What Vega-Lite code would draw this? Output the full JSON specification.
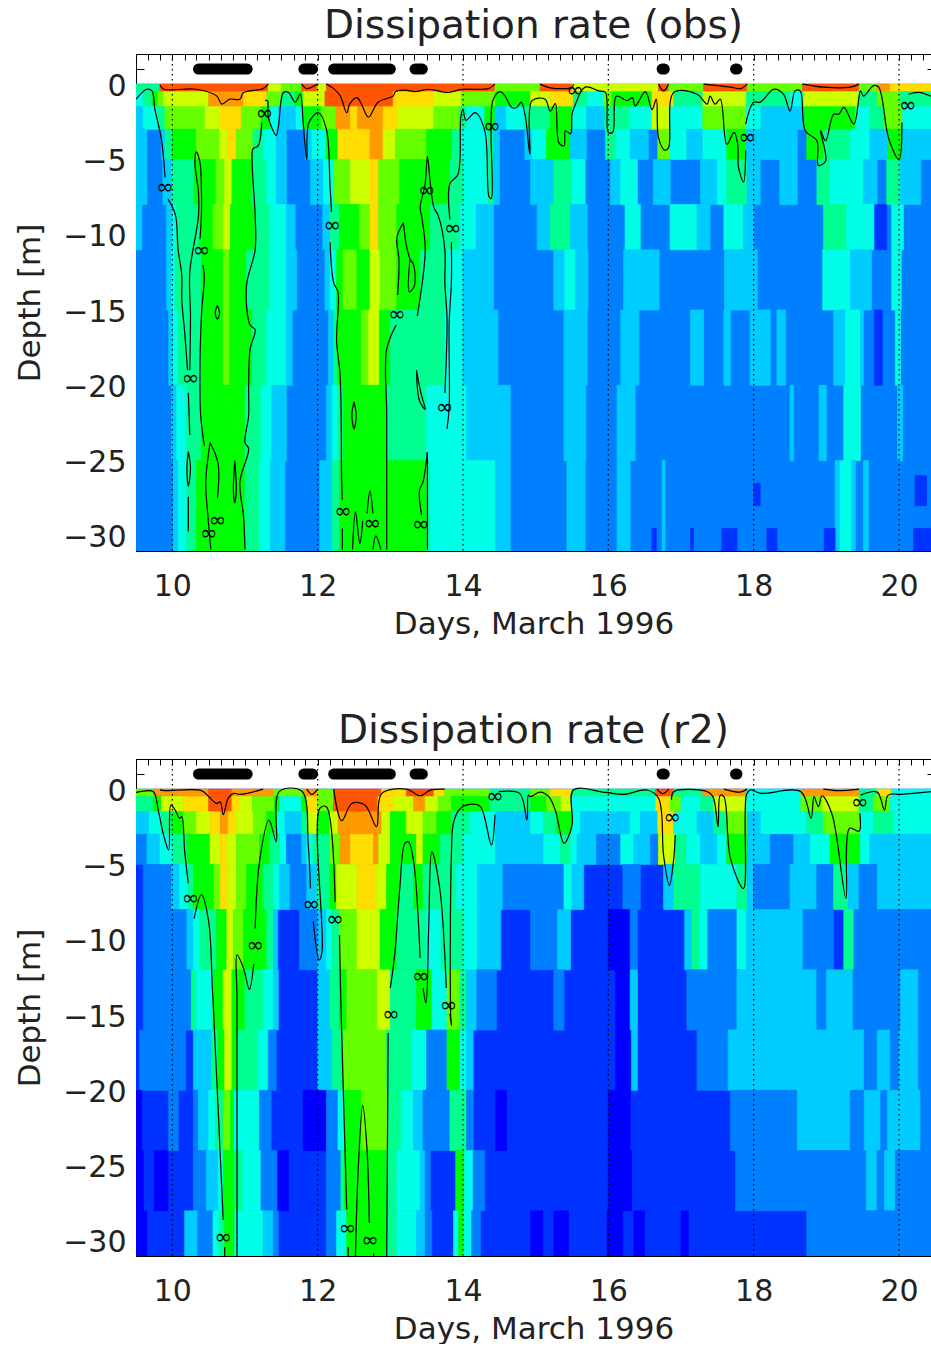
{"$schema":"https://vega.github.io/schema/vega-lite/v6.json","background":"white","padding":{"left":14,"top":7,"right":0,"bottom":0},"bounds":"flush","spacing":208,
"config":{"view":{"stroke":null},"text":{"font":"DejaVu Sans"},"axis":{"labelFont":"DejaVu Sans","titleFont":"DejaVu Sans","labelFontSize":30,"titleFontSize":31,"titleFontWeight":"normal","labelColor":"#222","titleColor":"#222","tickColor":"black","domainColor":"black","grid":false,"zindex":1},"title":{"font":"DejaVu Sans","fontSize":39,"fontWeight":"normal","color":"#222","offset":7}},
"datasets":{
"f1":[{"a":9.5,"b":20.44,"t":0,"u":-31,"l":2},
{"a":9.5,"b":9.83,"t":0,"u":-0.5,"l":5},{"a":9.83,"b":11.32,"t":0,"u":-0.5,"l":11},{"a":11.32,"b":11.5,"t":0,"u":-0.5,"l":8},{"a":11.5,"b":11.78,"t":0,"u":-0.5,"l":7},{"a":11.78,"b":12,"t":0,"u":-0.5,"l":11},{"a":12,"b":12.12,"t":0,"u":-0.5,"l":8},{"a":12.12,"b":14.44,"t":0,"u":-0.5,"l":11},{"a":14.44,"b":15.06,"t":0,"u":-0.5,"l":7},{"a":15.06,"b":15.5,"t":0,"u":-0.5,"l":11},{"a":15.5,"b":16.69,"t":0,"u":-0.5,"l":8},{"a":16.69,"b":16.83,"t":0,"u":-0.5,"l":11},{"a":16.83,"b":17.31,"t":0,"u":-0.5,"l":7},{"a":17.31,"b":17.91,"t":0,"u":-0.5,"l":11},{"a":17.91,"b":18.67,"t":0,"u":-0.5,"l":7},{"a":18.67,"b":19.45,"t":0,"u":-0.5,"l":11},{"a":19.45,"b":19.7,"t":0,"u":-0.5,"l":7},{"a":19.7,"b":19.88,"t":0,"u":-0.5,"l":10},{"a":19.88,"b":20.44,"t":0,"u":-0.5,"l":9},
{"a":9.5,"b":9.6,"t":-0.5,"u":-1.5,"l":4},{"a":9.6,"b":9.72,"t":-0.5,"u":-1.5,"l":5},{"a":9.72,"b":9.8,"t":-0.5,"u":-1.5,"l":6},{"a":9.8,"b":9.88,"t":-0.5,"u":-1.5,"l":7},{"a":9.88,"b":10.5,"t":-0.5,"u":-1.5,"l":8},{"a":10.5,"b":10.98,"t":-0.5,"u":-1.5,"l":10},{"a":10.98,"b":11.3,"t":-0.5,"u":-1.5,"l":9},{"a":11.3,"b":11.5,"t":-0.5,"u":-1.5,"l":7},{"a":11.5,"b":11.69,"t":-0.5,"u":-1.5,"l":5},{"a":11.69,"b":11.8,"t":-0.5,"u":-1.5,"l":6},{"a":11.8,"b":12.1,"t":-0.5,"u":-1.5,"l":8},{"a":12.1,"b":13.04,"t":-0.5,"u":-1.5,"l":11},{"a":13.04,"b":13.6,"t":-0.5,"u":-1.5,"l":9},{"a":13.6,"b":13.98,"t":-0.5,"u":-1.5,"l":8},{"a":13.98,"b":14.45,"t":-0.5,"u":-1.5,"l":7},{"a":14.45,"b":14.93,"t":-0.5,"u":-1.5,"l":6},{"a":14.93,"b":15.2,"t":-0.5,"u":-1.5,"l":8},{"a":15.2,"b":15.52,"t":-0.5,"u":-1.5,"l":9},{"a":15.52,"b":15.71,"t":-0.5,"u":-1.5,"l":5},{"a":15.71,"b":15.94,"t":-0.5,"u":-1.5,"l":4},{"a":15.94,"b":16.05,"t":-0.5,"u":-1.5,"l":7},{"a":16.05,"b":16.6,"t":-0.5,"u":-1.5,"l":6},{"a":16.6,"b":16.9,"t":-0.5,"u":-1.5,"l":9},{"a":16.9,"b":17.3,"t":-0.5,"u":-1.5,"l":5},{"a":17.3,"b":17.9,"t":-0.5,"u":-1.5,"l":8},{"a":17.9,"b":18.5,"t":-0.5,"u":-1.5,"l":5},{"a":18.5,"b":18.69,"t":-0.5,"u":-1.5,"l":4},{"a":18.69,"b":19.45,"t":-0.5,"u":-1.5,"l":8},{"a":19.45,"b":19.7,"t":-0.5,"u":-1.5,"l":5},{"a":19.7,"b":20.02,"t":-0.5,"u":-1.5,"l":7},{"a":20.02,"b":20.44,"t":-0.5,"u":-1.5,"l":5},
{"a":9.5,"b":9.6,"t":-1.5,"u":-3,"l":3},{"a":9.6,"b":9.8,"t":-1.5,"u":-3,"l":4},{"a":9.8,"b":9.9,"t":-1.5,"u":-3,"l":5},{"a":9.9,"b":10.45,"t":-1.5,"u":-3,"l":7},{"a":10.45,"b":10.65,"t":-1.5,"u":-3,"l":8},{"a":10.65,"b":10.95,"t":-1.5,"u":-3,"l":9},{"a":10.95,"b":11.22,"t":-1.5,"u":-3,"l":7},{"a":11.22,"b":11.35,"t":-1.5,"u":-3,"l":6},{"a":11.35,"b":11.46,"t":-1.5,"u":-3,"l":4},{"a":11.46,"b":11.7,"t":-1.5,"u":-3,"l":3},{"a":11.7,"b":11.8,"t":-1.5,"u":-3,"l":4},{"a":11.8,"b":12.05,"t":-1.5,"u":-3,"l":6},{"a":12.05,"b":12.25,"t":-1.5,"u":-3,"l":7},{"a":12.25,"b":12.45,"t":-1.5,"u":-3,"l":10},{"a":12.45,"b":12.55,"t":-1.5,"u":-3,"l":9},{"a":12.55,"b":12.9,"t":-1.5,"u":-3,"l":10},{"a":12.9,"b":13.1,"t":-1.5,"u":-3,"l":9},{"a":13.1,"b":13.6,"t":-1.5,"u":-3,"l":8},{"a":13.6,"b":13.95,"t":-1.5,"u":-3,"l":7},{"a":13.95,"b":14.05,"t":-1.5,"u":-3,"l":5},{"a":14.05,"b":14.3,"t":-1.5,"u":-3,"l":4},{"a":14.3,"b":14.44,"t":-1.5,"u":-3,"l":6},{"a":14.44,"b":14.6,"t":-1.5,"u":-3,"l":3},{"a":14.6,"b":14.85,"t":-1.5,"u":-3,"l":4},{"a":14.85,"b":15.2,"t":-1.5,"u":-3,"l":5},{"a":15.2,"b":15.5,"t":-1.5,"u":-3,"l":6},{"a":15.5,"b":15.7,"t":-1.5,"u":-3,"l":4},{"a":15.7,"b":15.95,"t":-1.5,"u":-3,"l":3},{"a":15.95,"b":16.3,"t":-1.5,"u":-3,"l":5},{"a":16.3,"b":16.6,"t":-1.5,"u":-3,"l":4},{"a":16.6,"b":16.85,"t":-1.5,"u":-3,"l":8},{"a":16.85,"b":17.3,"t":-1.5,"u":-3,"l":4},{"a":17.3,"b":17.9,"t":-1.5,"u":-3,"l":7},{"a":17.9,"b":18.1,"t":-1.5,"u":-3,"l":4},{"a":18.1,"b":18.7,"t":-1.5,"u":-3,"l":3},{"a":18.7,"b":19.4,"t":-1.5,"u":-3,"l":6},{"a":19.4,"b":19.6,"t":-1.5,"u":-3,"l":4},{"a":19.6,"b":19.8,"t":-1.5,"u":-3,"l":5},{"a":19.8,"b":20.05,"t":-1.5,"u":-3,"l":7},{"a":20.05,"b":20.44,"t":-1.5,"u":-3,"l":4},
{"a":9.5,"b":9.65,"t":-3,"u":-5,"l":3},{"a":9.85,"b":9.9,"t":-3,"u":-5,"l":3},{"a":9.9,"b":10,"t":-3,"u":-5,"l":5},{"a":10,"b":10.33,"t":-3,"u":-5,"l":6},{"a":10.33,"b":10.65,"t":-3,"u":-5,"l":7},{"a":10.65,"b":10.75,"t":-3,"u":-5,"l":8},{"a":10.75,"b":10.88,"t":-3,"u":-5,"l":9},{"a":10.88,"b":11.11,"t":-3,"u":-5,"l":7},{"a":11.11,"b":11.25,"t":-3,"u":-5,"l":5},{"a":11.25,"b":11.43,"t":-3,"u":-5,"l":4},{"a":11.43,"b":11.57,"t":-3,"u":-5,"l":3},{"a":11.83,"b":11.92,"t":-3,"u":-5,"l":3},{"a":11.92,"b":12.12,"t":-3,"u":-5,"l":4},{"a":12.12,"b":12.28,"t":-3,"u":-5,"l":6},{"a":12.28,"b":12.72,"t":-3,"u":-5,"l":9},{"a":12.72,"b":12.9,"t":-3,"u":-5,"l":10},{"a":12.9,"b":13.07,"t":-3,"u":-5,"l":8},{"a":13.07,"b":13.5,"t":-3,"u":-5,"l":7},{"a":13.5,"b":13.85,"t":-3,"u":-5,"l":6},{"a":13.85,"b":13.97,"t":-3,"u":-5,"l":5},{"a":13.97,"b":14.35,"t":-3,"u":-5,"l":4},{"a":14.35,"b":14.42,"t":-3,"u":-5,"l":5},{"a":14.42,"b":14.5,"t":-3,"u":-5,"l":3},{"a":14.85,"b":14.95,"t":-3,"u":-5,"l":3},{"a":14.95,"b":15.15,"t":-3,"u":-5,"l":4},{"a":15.15,"b":15.48,"t":-3,"u":-5,"l":6},{"a":15.48,"b":15.7,"t":-3,"u":-5,"l":3},{"a":15.96,"b":16.1,"t":-3,"u":-5,"l":5},{"a":16.1,"b":16.3,"t":-3,"u":-5,"l":4},{"a":16.3,"b":16.55,"t":-3,"u":-5,"l":3},{"a":16.68,"b":16.85,"t":-3,"u":-5,"l":7},{"a":16.85,"b":17.08,"t":-3,"u":-5,"l":4},{"a":17.08,"b":17.3,"t":-3,"u":-5,"l":3},{"a":17.3,"b":17.63,"t":-3,"u":-5,"l":4},{"a":17.63,"b":17.9,"t":-3,"u":-5,"l":6},{"a":17.9,"b":18.6,"t":-3,"u":-5,"l":3},{"a":18.73,"b":18.96,"t":-3,"u":-5,"l":6},{"a":18.96,"b":19.33,"t":-3,"u":-5,"l":5},{"a":19.33,"b":19.6,"t":-3,"u":-5,"l":4},{"a":19.6,"b":19.85,"t":-3,"u":-5,"l":3},{"a":19.85,"b":20.05,"t":-3,"u":-5,"l":6},{"a":20.05,"b":20.44,"t":-3,"u":-5,"l":3},
{"a":9.5,"b":9.65,"t":-5,"u":-8,"l":3},{"a":9.87,"b":9.99,"t":-5,"u":-8,"l":3},{"a":9.99,"b":10.3,"t":-5,"u":-8,"l":5},{"a":10.3,"b":10.6,"t":-5,"u":-8,"l":6},{"a":10.6,"b":10.72,"t":-5,"u":-8,"l":7},{"a":10.72,"b":10.82,"t":-5,"u":-8,"l":8},{"a":10.82,"b":11.1,"t":-5,"u":-8,"l":6},{"a":11.1,"b":11.3,"t":-5,"u":-8,"l":5},{"a":11.3,"b":11.43,"t":-5,"u":-8,"l":4},{"a":11.43,"b":11.57,"t":-5,"u":-8,"l":3},{"a":11.9,"b":12.08,"t":-5,"u":-8,"l":3},{"a":12.08,"b":12.22,"t":-5,"u":-8,"l":4},{"a":12.22,"b":12.45,"t":-5,"u":-8,"l":7},{"a":12.45,"b":12.72,"t":-5,"u":-8,"l":8},{"a":12.72,"b":12.84,"t":-5,"u":-8,"l":9},{"a":12.84,"b":13.13,"t":-5,"u":-8,"l":7},{"a":13.13,"b":13.82,"t":-5,"u":-8,"l":6},{"a":13.82,"b":14,"t":-5,"u":-8,"l":5},{"a":14,"b":14.35,"t":-5,"u":-8,"l":4},{"a":14.35,"b":14.42,"t":-5,"u":-8,"l":5},{"a":14.42,"b":14.5,"t":-5,"u":-8,"l":3},{"a":14.93,"b":15.25,"t":-5,"u":-8,"l":3},{"a":15.25,"b":15.5,"t":-5,"u":-8,"l":5},{"a":15.5,"b":15.68,"t":-5,"u":-8,"l":4},{"a":16.03,"b":16.17,"t":-5,"u":-8,"l":3},{"a":16.17,"b":16.4,"t":-5,"u":-8,"l":4},{"a":16.62,"b":16.85,"t":-5,"u":-8,"l":3},{"a":17.27,"b":17.5,"t":-5,"u":-8,"l":3},{"a":17.5,"b":17.63,"t":-5,"u":-8,"l":4},{"a":17.63,"b":17.91,"t":-5,"u":-8,"l":5},{"a":17.91,"b":18.09,"t":-5,"u":-8,"l":3},{"a":18.36,"b":18.6,"t":-5,"u":-8,"l":3},{"a":18.87,"b":19.05,"t":-5,"u":-8,"l":5},{"a":19.05,"b":19.51,"t":-5,"u":-8,"l":4},{"a":19.51,"b":19.7,"t":-5,"u":-8,"l":3},{"a":19.83,"b":20.02,"t":-5,"u":-8,"l":5},{"a":20.02,"b":20.3,"t":-5,"u":-8,"l":3},
{"a":9.5,"b":9.58,"t":-8,"u":-11,"l":3},{"a":9.92,"b":10,"t":-8,"u":-11,"l":3},{"a":10,"b":10.06,"t":-8,"u":-11,"l":4},{"a":10.06,"b":10.38,"t":-8,"u":-11,"l":5},{"a":10.38,"b":10.56,"t":-8,"u":-11,"l":6},{"a":10.56,"b":10.7,"t":-8,"u":-11,"l":7},{"a":10.7,"b":10.8,"t":-8,"u":-11,"l":8},{"a":10.8,"b":11.14,"t":-8,"u":-11,"l":6},{"a":11.14,"b":11.34,"t":-8,"u":-11,"l":5},{"a":11.34,"b":11.57,"t":-8,"u":-11,"l":4},{"a":11.57,"b":11.69,"t":-8,"u":-11,"l":3},{"a":12.07,"b":12.17,"t":-8,"u":-11,"l":3},{"a":12.17,"b":12.3,"t":-8,"u":-11,"l":5},{"a":12.3,"b":12.58,"t":-8,"u":-11,"l":6},{"a":12.58,"b":12.72,"t":-8,"u":-11,"l":7},{"a":12.72,"b":12.84,"t":-8,"u":-11,"l":9},{"a":12.84,"b":13.09,"t":-8,"u":-11,"l":7},{"a":13.09,"b":13.55,"t":-8,"u":-11,"l":6},{"a":13.55,"b":13.96,"t":-8,"u":-11,"l":5},{"a":13.96,"b":14.18,"t":-8,"u":-11,"l":4},{"a":14.18,"b":14.42,"t":-8,"u":-11,"l":3},{"a":15.02,"b":15.2,"t":-8,"u":-11,"l":3},{"a":15.2,"b":15.48,"t":-8,"u":-11,"l":5},{"a":15.48,"b":15.71,"t":-8,"u":-11,"l":3},{"a":16.23,"b":16.44,"t":-8,"u":-11,"l":4},{"a":16.85,"b":17.22,"t":-8,"u":-11,"l":4},{"a":17.22,"b":17.4,"t":-8,"u":-11,"l":3},{"a":17.59,"b":17.86,"t":-8,"u":-11,"l":4},{"a":17.86,"b":18,"t":-8,"u":-11,"l":3},{"a":18.96,"b":19.28,"t":-8,"u":-11,"l":5},{"a":19.28,"b":19.65,"t":-8,"u":-11,"l":4},{"a":19.67,"b":19.83,"t":-8,"u":-11,"l":1},{"a":19.9,"b":20.06,"t":-8,"u":-11,"l":4},
{"a":9.92,"b":9.99,"t":-11,"u":-15,"l":3},{"a":9.99,"b":10.04,"t":-11,"u":-15,"l":4},{"a":10.04,"b":10.4,"t":-11,"u":-15,"l":5},{"a":10.4,"b":10.7,"t":-11,"u":-15,"l":6},{"a":10.7,"b":10.79,"t":-11,"u":-15,"l":7},{"a":10.79,"b":11.02,"t":-11,"u":-15,"l":6},{"a":11.02,"b":11.34,"t":-11,"u":-15,"l":5},{"a":11.34,"b":11.57,"t":-11,"u":-15,"l":4},{"a":11.57,"b":11.71,"t":-11,"u":-15,"l":3},{"a":12.1,"b":12.17,"t":-11,"u":-15,"l":3},{"a":12.17,"b":12.26,"t":-11,"u":-15,"l":4},{"a":12.26,"b":12.35,"t":-11,"u":-15,"l":6},{"a":12.35,"b":12.54,"t":-11,"u":-15,"l":7},{"a":12.54,"b":12.72,"t":-11,"u":-15,"l":6},{"a":12.72,"b":12.86,"t":-11,"u":-15,"l":8},{"a":12.86,"b":13.09,"t":-11,"u":-15,"l":7},{"a":13.09,"b":13.41,"t":-11,"u":-15,"l":6},{"a":13.41,"b":13.78,"t":-11,"u":-15,"l":5},{"a":13.78,"b":14,"t":-11,"u":-15,"l":4},{"a":14,"b":14.42,"t":-11,"u":-15,"l":3},{"a":15.25,"b":15.4,"t":-11,"u":-15,"l":3},{"a":15.4,"b":15.55,"t":-11,"u":-15,"l":4},{"a":15.55,"b":15.72,"t":-11,"u":-15,"l":3},{"a":16.21,"b":16.7,"t":-11,"u":-15,"l":3},{"a":17.6,"b":18.05,"t":-11,"u":-15,"l":3},{"a":18.95,"b":19.33,"t":-11,"u":-15,"l":4},{"a":19.33,"b":19.62,"t":-11,"u":-15,"l":3},{"a":19.9,"b":20.03,"t":-11,"u":-15,"l":4},
{"a":9.95,"b":10.01,"t":-15,"u":-20,"l":3},{"a":10.01,"b":10.08,"t":-15,"u":-20,"l":4},{"a":10.08,"b":10.4,"t":-15,"u":-20,"l":5},{"a":10.4,"b":10.7,"t":-15,"u":-20,"l":6},{"a":10.7,"b":10.79,"t":-15,"u":-20,"l":7},{"a":10.79,"b":11.1,"t":-15,"u":-20,"l":6},{"a":11.1,"b":11.3,"t":-15,"u":-20,"l":5},{"a":11.3,"b":11.57,"t":-15,"u":-20,"l":4},{"a":11.57,"b":11.65,"t":-15,"u":-20,"l":3},{"a":12.15,"b":12.22,"t":-15,"u":-20,"l":3},{"a":12.22,"b":12.27,"t":-15,"u":-20,"l":5},{"a":12.27,"b":12.6,"t":-15,"u":-20,"l":6},{"a":12.6,"b":12.7,"t":-15,"u":-20,"l":7},{"a":12.7,"b":12.85,"t":-15,"u":-20,"l":8},{"a":12.85,"b":13,"t":-15,"u":-20,"l":6},{"a":13,"b":13.75,"t":-15,"u":-20,"l":5},{"a":13.75,"b":14,"t":-15,"u":-20,"l":4},{"a":14,"b":14.48,"t":-15,"u":-20,"l":3},{"a":15.39,"b":15.71,"t":-15,"u":-20,"l":3},{"a":16.17,"b":16.42,"t":-15,"u":-20,"l":3},{"a":17.13,"b":17.31,"t":-15,"u":-20,"l":3},{"a":17.59,"b":17.68,"t":-15,"u":-20,"l":3},{"a":17.95,"b":18.23,"t":-15,"u":-20,"l":3},{"a":18.32,"b":18.44,"t":-15,"u":-20,"l":3},{"a":19.1,"b":19.26,"t":-15,"u":-20,"l":3},{"a":19.26,"b":19.47,"t":-15,"u":-20,"l":4},{"a":19.47,"b":19.51,"t":-15,"u":-20,"l":3},{"a":19.66,"b":19.77,"t":-15,"u":-20,"l":1},{"a":19.95,"b":20.02,"t":-15,"u":-20,"l":4},
{"a":9.99,"b":10.06,"t":-20,"u":-25,"l":3},{"a":10.06,"b":10.2,"t":-20,"u":-25,"l":4},{"a":10.2,"b":10.4,"t":-20,"u":-25,"l":5},{"a":10.4,"b":11,"t":-20,"u":-25,"l":6},{"a":11,"b":11.22,"t":-20,"u":-25,"l":5},{"a":11.22,"b":11.37,"t":-20,"u":-25,"l":4},{"a":11.37,"b":11.57,"t":-20,"u":-25,"l":3},{"a":12.12,"b":12.2,"t":-20,"u":-25,"l":3},{"a":12.2,"b":12.28,"t":-20,"u":-25,"l":4},{"a":12.28,"b":12.35,"t":-20,"u":-25,"l":5},{"a":12.35,"b":12.95,"t":-20,"u":-25,"l":6},{"a":12.95,"b":13.5,"t":-20,"u":-25,"l":5},{"a":13.5,"b":14.05,"t":-20,"u":-25,"l":4},{"a":14.05,"b":14.65,"t":-20,"u":-25,"l":3},{"a":15.39,"b":15.69,"t":-20,"u":-25,"l":3},{"a":16.12,"b":16.37,"t":-20,"u":-25,"l":3},{"a":18.5,"b":18.55,"t":-20,"u":-25,"l":3},{"a":18.9,"b":19,"t":-20,"u":-25,"l":3},{"a":19.24,"b":19.47,"t":-20,"u":-25,"l":4},{"a":19.98,"b":20.05,"t":-20,"u":-25,"l":3},
{"a":10.01,"b":10.08,"t":-25,"u":-31,"l":3},{"a":10.08,"b":10.2,"t":-25,"u":-31,"l":4},{"a":10.2,"b":10.33,"t":-25,"u":-31,"l":5},{"a":10.33,"b":11,"t":-25,"u":-31,"l":6},{"a":11,"b":11.2,"t":-25,"u":-31,"l":5},{"a":11.2,"b":11.35,"t":-25,"u":-31,"l":4},{"a":11.35,"b":11.55,"t":-25,"u":-31,"l":3},{"a":12.03,"b":12.2,"t":-25,"u":-31,"l":3},{"a":12.2,"b":12.3,"t":-25,"u":-31,"l":5},{"a":12.3,"b":13.5,"t":-25,"u":-31,"l":6},{"a":13.5,"b":13.55,"t":-25,"u":-31,"l":5},{"a":13.55,"b":14.45,"t":-25,"u":-31,"l":4},{"a":14.45,"b":14.65,"t":-25,"u":-31,"l":3},{"a":15.43,"b":15.68,"t":-25,"u":-31,"l":3},{"a":16.12,"b":16.3,"t":-25,"u":-31,"l":3},{"a":16.74,"b":16.78,"t":-25,"u":-31,"l":3},{"a":19.12,"b":19.19,"t":-25,"u":-31,"l":3},{"a":19.19,"b":19.35,"t":-25,"u":-31,"l":4},{"a":19.35,"b":19.4,"t":-25,"u":-31,"l":3},{"a":19.51,"b":19.58,"t":-25,"u":-31,"l":3},{"a":20.22,"b":20.38,"t":-26,"u":-28,"l":1},{"a":18,"b":18.09,"t":-26.5,"u":-28,"l":1},
{"a":16.6,"b":16.66,"t":-29.5,"u":-31,"l":1},{"a":17.13,"b":17.17,"t":-29.5,"u":-31,"l":1},{"a":17.56,"b":17.77,"t":-29.5,"u":-31,"l":1},{"a":18.18,"b":18.32,"t":-29.5,"u":-31,"l":1},{"a":18.97,"b":19.12,"t":-29.5,"u":-31,"l":1},{"a":20.2,"b":20.44,"t":-29.5,"u":-31,"l":1}],
"f2":[{"a":9.5,"b":20.44,"t":0,"u":-31,"l":1},
{"a":9.5,"b":9.74,"t":0,"u":-0.5,"l":7},{"a":9.74,"b":10.5,"t":0,"u":-0.5,"l":10},{"a":10.5,"b":10.82,"t":0,"u":-0.5,"l":11},{"a":10.82,"b":11.4,"t":0,"u":-0.5,"l":10},{"a":11.4,"b":11.8,"t":0,"u":-0.5,"l":7},{"a":11.8,"b":12,"t":0,"u":-0.5,"l":10},{"a":12,"b":12.22,"t":0,"u":-0.5,"l":7},{"a":12.22,"b":12.88,"t":0,"u":-0.5,"l":11},{"a":12.88,"b":13.22,"t":0,"u":-0.5,"l":9},{"a":13.22,"b":13.6,"t":0,"u":-0.5,"l":11},{"a":13.6,"b":13.75,"t":0,"u":-0.5,"l":9},{"a":13.75,"b":14.37,"t":0,"u":-0.5,"l":7},{"a":14.37,"b":14.92,"t":0,"u":-0.5,"l":5},{"a":14.92,"b":15.2,"t":0,"u":-0.5,"l":7},{"a":15.2,"b":15.5,"t":0,"u":-0.5,"l":9},{"a":15.5,"b":16.65,"t":0,"u":-0.5,"l":5},{"a":16.65,"b":16.9,"t":0,"u":-0.5,"l":11},{"a":16.9,"b":17.3,"t":0,"u":-0.5,"l":5},{"a":17.3,"b":17.9,"t":0,"u":-0.5,"l":10},{"a":17.9,"b":18.65,"t":0,"u":-0.5,"l":4},{"a":18.65,"b":19.45,"t":0,"u":-0.5,"l":10},{"a":19.45,"b":19.7,"t":0,"u":-0.5,"l":5},{"a":19.7,"b":19.9,"t":0,"u":-0.5,"l":9},{"a":19.9,"b":20.44,"t":0,"u":-0.5,"l":4},
{"a":9.5,"b":9.74,"t":-0.5,"u":-1.5,"l":5},{"a":9.74,"b":9.85,"t":-0.5,"u":-1.5,"l":6},{"a":9.85,"b":10.15,"t":-0.5,"u":-1.5,"l":8},{"a":10.15,"b":10.5,"t":-0.5,"u":-1.5,"l":9},{"a":10.5,"b":10.82,"t":-0.5,"u":-1.5,"l":11},{"a":10.82,"b":10.93,"t":-0.5,"u":-1.5,"l":9},{"a":10.93,"b":11.1,"t":-0.5,"u":-1.5,"l":8},{"a":11.1,"b":11.4,"t":-0.5,"u":-1.5,"l":7},{"a":11.4,"b":11.48,"t":-0.5,"u":-1.5,"l":6},{"a":11.48,"b":11.78,"t":-0.5,"u":-1.5,"l":4},{"a":11.78,"b":11.85,"t":-0.5,"u":-1.5,"l":6},{"a":11.85,"b":12,"t":-0.5,"u":-1.5,"l":9},{"a":12,"b":12.22,"t":-0.5,"u":-1.5,"l":7},{"a":12.22,"b":12.83,"t":-0.5,"u":-1.5,"l":11},{"a":12.83,"b":13.04,"t":-0.5,"u":-1.5,"l":9},{"a":13.04,"b":13.32,"t":-0.5,"u":-1.5,"l":8},{"a":13.32,"b":13.48,"t":-0.5,"u":-1.5,"l":10},{"a":13.48,"b":13.66,"t":-0.5,"u":-1.5,"l":8},{"a":13.66,"b":13.84,"t":-0.5,"u":-1.5,"l":7},{"a":13.84,"b":14.37,"t":-0.5,"u":-1.5,"l":6},{"a":14.37,"b":14.93,"t":-0.5,"u":-1.5,"l":5},{"a":14.93,"b":15.15,"t":-0.5,"u":-1.5,"l":6},{"a":15.15,"b":15.35,"t":-0.5,"u":-1.5,"l":7},{"a":15.35,"b":15.5,"t":-0.5,"u":-1.5,"l":8},{"a":15.5,"b":16.65,"t":-0.5,"u":-1.5,"l":4},{"a":16.65,"b":16.85,"t":-0.5,"u":-1.5,"l":9},{"a":16.85,"b":17,"t":-0.5,"u":-1.5,"l":7},{"a":17,"b":17.27,"t":-0.5,"u":-1.5,"l":4},{"a":17.27,"b":17.45,"t":-0.5,"u":-1.5,"l":5},{"a":17.45,"b":17.9,"t":-0.5,"u":-1.5,"l":8},{"a":17.9,"b":18.65,"t":-0.5,"u":-1.5,"l":4},{"a":18.65,"b":18.95,"t":-0.5,"u":-1.5,"l":7},{"a":18.95,"b":19.45,"t":-0.5,"u":-1.5,"l":8},{"a":19.45,"b":19.65,"t":-0.5,"u":-1.5,"l":5},{"a":19.65,"b":19.88,"t":-0.5,"u":-1.5,"l":7},{"a":19.88,"b":20.44,"t":-0.5,"u":-1.5,"l":4},
{"a":9.5,"b":9.68,"t":-1.5,"u":-3,"l":3},{"a":9.68,"b":9.85,"t":-1.5,"u":-3,"l":4},{"a":9.85,"b":9.99,"t":-1.5,"u":-3,"l":5},{"a":9.99,"b":10.15,"t":-1.5,"u":-3,"l":6},{"a":10.15,"b":10.33,"t":-1.5,"u":-3,"l":7},{"a":10.33,"b":10.52,"t":-1.5,"u":-3,"l":8},{"a":10.52,"b":10.66,"t":-1.5,"u":-3,"l":9},{"a":10.66,"b":10.77,"t":-1.5,"u":-3,"l":10},{"a":10.77,"b":10.88,"t":-1.5,"u":-3,"l":9},{"a":10.88,"b":11.12,"t":-1.5,"u":-3,"l":8},{"a":11.12,"b":11.3,"t":-1.5,"u":-3,"l":7},{"a":11.3,"b":11.44,"t":-1.5,"u":-3,"l":6},{"a":11.44,"b":11.55,"t":-1.5,"u":-3,"l":4},{"a":11.55,"b":11.78,"t":-1.5,"u":-3,"l":3},{"a":11.78,"b":11.87,"t":-1.5,"u":-3,"l":5},{"a":11.87,"b":12.01,"t":-1.5,"u":-3,"l":8},{"a":12.01,"b":12.17,"t":-1.5,"u":-3,"l":6},{"a":12.17,"b":12.28,"t":-1.5,"u":-3,"l":8},{"a":12.28,"b":12.88,"t":-1.5,"u":-3,"l":10},{"a":12.88,"b":13,"t":-1.5,"u":-3,"l":8},{"a":13,"b":13.22,"t":-1.5,"u":-3,"l":6},{"a":13.22,"b":13.45,"t":-1.5,"u":-3,"l":8},{"a":13.45,"b":13.64,"t":-1.5,"u":-3,"l":7},{"a":13.64,"b":13.84,"t":-1.5,"u":-3,"l":6},{"a":13.84,"b":14.1,"t":-1.5,"u":-3,"l":5},{"a":14.1,"b":14.45,"t":-1.5,"u":-3,"l":4},{"a":14.45,"b":14.93,"t":-1.5,"u":-3,"l":3},{"a":14.93,"b":15.11,"t":-1.5,"u":-3,"l":4},{"a":15.11,"b":15.29,"t":-1.5,"u":-3,"l":5},{"a":15.29,"b":15.5,"t":-1.5,"u":-3,"l":6},{"a":15.5,"b":15.62,"t":-1.5,"u":-3,"l":4},{"a":15.62,"b":16.3,"t":-1.5,"u":-3,"l":3},{"a":16.3,"b":16.44,"t":-1.5,"u":-3,"l":4},{"a":16.44,"b":16.68,"t":-1.5,"u":-3,"l":3},{"a":16.68,"b":16.9,"t":-1.5,"u":-3,"l":9},{"a":16.9,"b":17.22,"t":-1.5,"u":-3,"l":4},{"a":17.22,"b":17.45,"t":-1.5,"u":-3,"l":3},{"a":17.45,"b":17.63,"t":-1.5,"u":-3,"l":5},{"a":17.63,"b":17.91,"t":-1.5,"u":-3,"l":7},{"a":17.91,"b":18.1,"t":-1.5,"u":-3,"l":3},{"a":18.1,"b":18.73,"t":-1.5,"u":-3,"l":4},{"a":18.73,"b":18.96,"t":-1.5,"u":-3,"l":5},{"a":18.96,"b":19.46,"t":-1.5,"u":-3,"l":7},{"a":19.46,"b":19.65,"t":-1.5,"u":-3,"l":4},{"a":19.65,"b":19.92,"t":-1.5,"u":-3,"l":5},{"a":19.92,"b":20.44,"t":-1.5,"u":-3,"l":4},
{"a":9.5,"b":9.65,"t":-3,"u":-5,"l":2},{"a":9.65,"b":9.83,"t":-3,"u":-5,"l":3},{"a":9.83,"b":10.01,"t":-3,"u":-5,"l":4},{"a":10.01,"b":10.2,"t":-3,"u":-5,"l":5},{"a":10.2,"b":10.52,"t":-3,"u":-5,"l":6},{"a":10.52,"b":10.66,"t":-3,"u":-5,"l":8},{"a":10.66,"b":10.75,"t":-3,"u":-5,"l":9},{"a":10.75,"b":10.88,"t":-3,"u":-5,"l":8},{"a":10.88,"b":11.2,"t":-3,"u":-5,"l":7},{"a":11.2,"b":11.34,"t":-3,"u":-5,"l":6},{"a":11.34,"b":11.48,"t":-3,"u":-5,"l":5},{"a":11.48,"b":11.57,"t":-3,"u":-5,"l":4},{"a":11.57,"b":11.78,"t":-3,"u":-5,"l":2},{"a":11.78,"b":11.85,"t":-3,"u":-5,"l":3},{"a":11.85,"b":11.94,"t":-3,"u":-5,"l":4},{"a":11.94,"b":12.17,"t":-3,"u":-5,"l":5},{"a":12.17,"b":12.31,"t":-3,"u":-5,"l":7},{"a":12.31,"b":12.45,"t":-3,"u":-5,"l":10},{"a":12.45,"b":12.77,"t":-3,"u":-5,"l":9},{"a":12.77,"b":12.84,"t":-3,"u":-5,"l":10},{"a":12.84,"b":13,"t":-3,"u":-5,"l":8},{"a":13,"b":13.36,"t":-3,"u":-5,"l":6},{"a":13.36,"b":13.45,"t":-3,"u":-5,"l":8},{"a":13.45,"b":13.69,"t":-3,"u":-5,"l":6},{"a":13.69,"b":14,"t":-3,"u":-5,"l":5},{"a":14,"b":14.45,"t":-3,"u":-5,"l":4},{"a":14.45,"b":15.11,"t":-3,"u":-5,"l":3},{"a":15.11,"b":15.34,"t":-3,"u":-5,"l":4},{"a":15.34,"b":15.48,"t":-3,"u":-5,"l":5},{"a":15.48,"b":15.57,"t":-3,"u":-5,"l":4},{"a":15.57,"b":15.84,"t":-3,"u":-5,"l":3},{"a":15.84,"b":16.17,"t":-3,"u":-5,"l":2},{"a":16.17,"b":16.35,"t":-3,"u":-5,"l":4},{"a":16.35,"b":16.58,"t":-3,"u":-5,"l":3},{"a":16.58,"b":16.69,"t":-3,"u":-5,"l":2},{"a":16.69,"b":16.92,"t":-3,"u":-5,"l":8},{"a":16.92,"b":17.08,"t":-3,"u":-5,"l":5},{"a":17.08,"b":17.27,"t":-3,"u":-5,"l":4},{"a":17.27,"b":17.5,"t":-3,"u":-5,"l":3},{"a":17.5,"b":17.63,"t":-3,"u":-5,"l":4},{"a":17.63,"b":17.91,"t":-3,"u":-5,"l":6},{"a":17.91,"b":18.23,"t":-3,"u":-5,"l":3},{"a":18.23,"b":18.55,"t":-3,"u":-5,"l":2},{"a":18.55,"b":18.78,"t":-3,"u":-5,"l":3},{"a":18.78,"b":19.05,"t":-3,"u":-5,"l":4},{"a":19.05,"b":19.47,"t":-3,"u":-5,"l":6},{"a":19.47,"b":19.6,"t":-3,"u":-5,"l":4},{"a":19.6,"b":20.44,"t":-3,"u":-5,"l":3},
{"a":9.6,"b":9.99,"t":-5,"u":-8,"l":2},{"a":9.99,"b":10.1,"t":-5,"u":-8,"l":3},{"a":10.1,"b":10.22,"t":-5,"u":-8,"l":4},{"a":10.22,"b":10.29,"t":-5,"u":-8,"l":5},{"a":10.29,"b":10.57,"t":-5,"u":-8,"l":6},{"a":10.57,"b":10.66,"t":-5,"u":-8,"l":7},{"a":10.66,"b":10.77,"t":-5,"u":-8,"l":9},{"a":10.77,"b":10.88,"t":-5,"u":-8,"l":8},{"a":10.88,"b":11.02,"t":-5,"u":-8,"l":7},{"a":11.02,"b":11.25,"t":-5,"u":-8,"l":6},{"a":11.25,"b":11.39,"t":-5,"u":-8,"l":5},{"a":11.39,"b":11.48,"t":-5,"u":-8,"l":4},{"a":11.48,"b":11.62,"t":-5,"u":-8,"l":3},{"a":11.62,"b":11.85,"t":-5,"u":-8,"l":2},{"a":11.85,"b":11.99,"t":-5,"u":-8,"l":3},{"a":11.99,"b":12.17,"t":-5,"u":-8,"l":5},{"a":12.17,"b":12.26,"t":-5,"u":-8,"l":6},{"a":12.26,"b":12.54,"t":-5,"u":-8,"l":8},{"a":12.54,"b":12.81,"t":-5,"u":-8,"l":9},{"a":12.81,"b":12.95,"t":-5,"u":-8,"l":8},{"a":12.95,"b":13.13,"t":-5,"u":-8,"l":6},{"a":13.13,"b":13.32,"t":-5,"u":-8,"l":5},{"a":13.32,"b":13.45,"t":-5,"u":-8,"l":6},{"a":13.45,"b":13.9,"t":-5,"u":-8,"l":5},{"a":13.9,"b":14.2,"t":-5,"u":-8,"l":4},{"a":14.2,"b":14.55,"t":-5,"u":-8,"l":3},{"a":14.55,"b":15.39,"t":-5,"u":-8,"l":2},{"a":15.39,"b":15.5,"t":-5,"u":-8,"l":4},{"a":15.5,"b":15.66,"t":-5,"u":-8,"l":3},{"a":16.2,"b":16.44,"t":-5,"u":-8,"l":2},{"a":16.76,"b":16.9,"t":-5,"u":-8,"l":3},{"a":16.9,"b":17.27,"t":-5,"u":-8,"l":5},{"a":17.27,"b":17.77,"t":-5,"u":-8,"l":4},{"a":17.77,"b":17.91,"t":-5,"u":-8,"l":5},{"a":17.91,"b":18,"t":-5,"u":-8,"l":3},{"a":18,"b":18.5,"t":-5,"u":-8,"l":2},{"a":18.5,"b":18.87,"t":-5,"u":-8,"l":3},{"a":18.87,"b":19.1,"t":-5,"u":-8,"l":2},{"a":19.1,"b":19.3,"t":-5,"u":-8,"l":5},{"a":19.3,"b":19.45,"t":-5,"u":-8,"l":3},{"a":19.45,"b":19.7,"t":-5,"u":-8,"l":2},{"a":19.7,"b":20.44,"t":-5,"u":-8,"l":3},
{"a":9.6,"b":10.2,"t":-8,"u":-12,"l":2},{"a":10.2,"b":10.29,"t":-8,"u":-12,"l":3},{"a":10.29,"b":10.38,"t":-8,"u":-12,"l":4},{"a":10.38,"b":10.61,"t":-8,"u":-12,"l":5},{"a":10.61,"b":10.75,"t":-8,"u":-12,"l":6},{"a":10.75,"b":10.84,"t":-8,"u":-12,"l":8},{"a":10.84,"b":10.98,"t":-8,"u":-12,"l":7},{"a":10.98,"b":11.3,"t":-8,"u":-12,"l":6},{"a":11.3,"b":11.39,"t":-8,"u":-12,"l":5},{"a":11.39,"b":11.45,"t":-8,"u":-12,"l":3},{"a":11.75,"b":12,"t":-8,"u":-12,"l":2},{"a":12,"b":12.12,"t":-8,"u":-12,"l":3},{"a":12.12,"b":12.2,"t":-8,"u":-12,"l":4},{"a":12.2,"b":12.3,"t":-8,"u":-12,"l":5},{"a":12.3,"b":12.54,"t":-8,"u":-12,"l":7},{"a":12.54,"b":12.86,"t":-8,"u":-12,"l":8},{"a":12.86,"b":13.09,"t":-8,"u":-12,"l":6},{"a":13.09,"b":13.5,"t":-8,"u":-12,"l":5},{"a":13.5,"b":13.7,"t":-8,"u":-12,"l":4},{"a":13.7,"b":14,"t":-8,"u":-12,"l":5},{"a":14,"b":14.2,"t":-8,"u":-12,"l":4},{"a":14.2,"b":14.52,"t":-8,"u":-12,"l":3},{"a":14.93,"b":15.3,"t":-8,"u":-12,"l":2},{"a":15.3,"b":15.48,"t":-8,"u":-12,"l":3},{"a":16,"b":16.3,"t":-8,"u":-12,"l":0},{"a":16.3,"b":16.4,"t":-8,"u":-12,"l":2},{"a":17.05,"b":17.15,"t":-8,"u":-12,"l":3},{"a":17.15,"b":17.25,"t":-8,"u":-12,"l":5},{"a":17.25,"b":17.37,"t":-8,"u":-12,"l":4},{"a":17.37,"b":17.77,"t":-8,"u":-12,"l":2},{"a":17.77,"b":17.9,"t":-8,"u":-12,"l":4},{"a":17.9,"b":18.68,"t":-8,"u":-12,"l":3},{"a":18.68,"b":19.1,"t":-8,"u":-12,"l":2},{"a":19.24,"b":19.38,"t":-8,"u":-12,"l":5},{"a":19.38,"b":20.44,"t":-8,"u":-12,"l":2},
{"a":9.6,"b":10.26,"t":-12,"u":-16,"l":2},{"a":10.26,"b":10.33,"t":-12,"u":-16,"l":5},{"a":10.33,"b":10.56,"t":-12,"u":-16,"l":4},{"a":10.56,"b":10.7,"t":-12,"u":-16,"l":6},{"a":10.7,"b":10.82,"t":-12,"u":-16,"l":8},{"a":10.82,"b":11,"t":-12,"u":-16,"l":6},{"a":11,"b":11.25,"t":-12,"u":-16,"l":5},{"a":11.25,"b":11.39,"t":-12,"u":-16,"l":4},{"a":11.39,"b":11.46,"t":-12,"u":-16,"l":3},{"a":12,"b":12.17,"t":-12,"u":-16,"l":3},{"a":12.17,"b":12.3,"t":-12,"u":-16,"l":5},{"a":12.3,"b":12.4,"t":-12,"u":-16,"l":6},{"a":12.4,"b":12.82,"t":-12,"u":-16,"l":7},{"a":12.82,"b":13,"t":-12,"u":-16,"l":8},{"a":13,"b":13.36,"t":-12,"u":-16,"l":5},{"a":13.36,"b":13.57,"t":-12,"u":-16,"l":6},{"a":13.57,"b":13.78,"t":-12,"u":-16,"l":4},{"a":13.78,"b":13.96,"t":-12,"u":-16,"l":7},{"a":13.96,"b":14.05,"t":-12,"u":-16,"l":5},{"a":14.05,"b":14.19,"t":-12,"u":-16,"l":3},{"a":14.19,"b":14.46,"t":-12,"u":-16,"l":2},{"a":15.25,"b":15.39,"t":-12,"u":-16,"l":2},{"a":16.1,"b":16.3,"t":-12,"u":-16,"l":0},{"a":16.3,"b":16.4,"t":-12,"u":-16,"l":3},{"a":17.08,"b":17.77,"t":-12,"u":-16,"l":2},{"a":17.77,"b":18.87,"t":-12,"u":-16,"l":3},{"a":18.87,"b":19,"t":-12,"u":-16,"l":2},{"a":19,"b":19.37,"t":-12,"u":-16,"l":3},{"a":19.37,"b":20.02,"t":-12,"u":-16,"l":2},{"a":20.02,"b":20.27,"t":-12,"u":-16,"l":3},{"a":20.27,"b":20.44,"t":-12,"u":-16,"l":2},
{"a":9.55,"b":10.18,"t":-16,"u":-20,"l":2},{"a":10.29,"b":10.54,"t":-16,"u":-20,"l":3},{"a":10.54,"b":10.63,"t":-16,"u":-20,"l":5},{"a":10.63,"b":10.72,"t":-16,"u":-20,"l":6},{"a":10.72,"b":10.82,"t":-16,"u":-20,"l":8},{"a":10.82,"b":10.89,"t":-16,"u":-20,"l":6},{"a":10.89,"b":11.18,"t":-16,"u":-20,"l":5},{"a":11.18,"b":11.32,"t":-16,"u":-20,"l":4},{"a":11.32,"b":11.43,"t":-16,"u":-20,"l":2},{"a":12,"b":12.2,"t":-16,"u":-20,"l":3},{"a":12.2,"b":12.35,"t":-16,"u":-20,"l":5},{"a":12.35,"b":12.95,"t":-16,"u":-20,"l":7},{"a":12.95,"b":13.3,"t":-16,"u":-20,"l":5},{"a":13.3,"b":13.5,"t":-16,"u":-20,"l":4},{"a":13.5,"b":13.78,"t":-16,"u":-20,"l":2},{"a":13.78,"b":13.96,"t":-16,"u":-20,"l":6},{"a":13.96,"b":14.05,"t":-16,"u":-20,"l":4},{"a":14.05,"b":14.14,"t":-16,"u":-20,"l":3},{"a":16.1,"b":16.3,"t":-16,"u":-20,"l":0},{"a":16.32,"b":16.4,"t":-16,"u":-20,"l":3},{"a":17.22,"b":17.65,"t":-16,"u":-20,"l":2},{"a":17.65,"b":19.52,"t":-16,"u":-20,"l":3},{"a":19.52,"b":19.7,"t":-16,"u":-20,"l":2},{"a":19.7,"b":19.88,"t":-16,"u":-20,"l":3},{"a":19.88,"b":20,"t":-16,"u":-20,"l":2},{"a":20,"b":20.27,"t":-16,"u":-20,"l":3},{"a":20.27,"b":20.44,"t":-16,"u":-20,"l":2},
{"a":9.5,"b":9.58,"t":-20,"u":-24,"l":0},{"a":9.95,"b":10.08,"t":-20,"u":-24,"l":2},{"a":10.29,"b":10.36,"t":-20,"u":-24,"l":2},{"a":10.36,"b":10.5,"t":-20,"u":-24,"l":3},{"a":10.5,"b":10.6,"t":-20,"u":-24,"l":4},{"a":10.6,"b":10.7,"t":-20,"u":-24,"l":5},{"a":10.7,"b":10.8,"t":-20,"u":-24,"l":7},{"a":10.8,"b":10.85,"t":-20,"u":-24,"l":6},{"a":10.85,"b":11.2,"t":-20,"u":-24,"l":4},{"a":11.2,"b":11.36,"t":-20,"u":-24,"l":2},{"a":11.8,"b":12.12,"t":-20,"u":-24,"l":0},{"a":12.12,"b":12.28,"t":-20,"u":-24,"l":2},{"a":12.28,"b":12.37,"t":-20,"u":-24,"l":4},{"a":12.37,"b":12.6,"t":-20,"u":-24,"l":6},{"a":12.6,"b":12.97,"t":-20,"u":-24,"l":7},{"a":12.97,"b":13.15,"t":-20,"u":-24,"l":5},{"a":13.15,"b":13.32,"t":-20,"u":-24,"l":4},{"a":13.32,"b":13.45,"t":-20,"u":-24,"l":3},{"a":13.45,"b":13.82,"t":-20,"u":-24,"l":2},{"a":13.82,"b":14.05,"t":-20,"u":-24,"l":5},{"a":14.05,"b":14.14,"t":-20,"u":-24,"l":2},{"a":14.45,"b":14.6,"t":-20,"u":-24,"l":0},{"a":16,"b":16.3,"t":-20,"u":-24,"l":0},{"a":17.68,"b":18.6,"t":-20,"u":-24,"l":2},{"a":18.6,"b":19.33,"t":-20,"u":-24,"l":3},{"a":19.33,"b":19.52,"t":-20,"u":-24,"l":2},{"a":19.52,"b":19.75,"t":-20,"u":-24,"l":3},{"a":19.75,"b":19.84,"t":-20,"u":-24,"l":2},{"a":19.84,"b":20.3,"t":-20,"u":-24,"l":3},{"a":20.3,"b":20.44,"t":-20,"u":-24,"l":2},
{"a":9.5,"b":9.6,"t":-24,"u":-28,"l":0},{"a":9.75,"b":9.94,"t":-24,"u":-28,"l":0},{"a":10.29,"b":10.47,"t":-24,"u":-28,"l":2},{"a":10.47,"b":10.63,"t":-24,"u":-28,"l":3},{"a":10.63,"b":10.7,"t":-24,"u":-28,"l":4},{"a":10.7,"b":10.86,"t":-24,"u":-28,"l":6},{"a":10.86,"b":10.97,"t":-24,"u":-28,"l":5},{"a":10.97,"b":11.22,"t":-24,"u":-28,"l":4},{"a":11.22,"b":11.45,"t":-24,"u":-28,"l":2},{"a":11.45,"b":11.6,"t":-24,"u":-28,"l":0},{"a":12.12,"b":12.32,"t":-24,"u":-28,"l":2},{"a":12.32,"b":12.37,"t":-24,"u":-28,"l":5},{"a":12.37,"b":12.95,"t":-24,"u":-28,"l":6},{"a":12.95,"b":13.09,"t":-24,"u":-28,"l":5},{"a":13.09,"b":13.41,"t":-24,"u":-28,"l":4},{"a":13.41,"b":13.48,"t":-24,"u":-28,"l":3},{"a":13.48,"b":13.55,"t":-24,"u":-28,"l":2},{"a":13.9,"b":14.02,"t":-24,"u":-28,"l":6},{"a":14.02,"b":14.14,"t":-24,"u":-28,"l":4},{"a":14.14,"b":14.3,"t":-24,"u":-28,"l":2},{"a":16,"b":16.32,"t":-24,"u":-28,"l":0},{"a":17.75,"b":19.55,"t":-24,"u":-28,"l":2},{"a":19.55,"b":19.7,"t":-24,"u":-28,"l":3},{"a":19.7,"b":19.8,"t":-24,"u":-28,"l":2},{"a":19.8,"b":19.95,"t":-24,"u":-28,"l":3},{"a":19.95,"b":20.44,"t":-24,"u":-28,"l":2},
{"a":9.5,"b":9.65,"t":-28,"u":-31,"l":0},{"a":10.17,"b":10.35,"t":-28,"u":-31,"l":3},{"a":10.35,"b":10.56,"t":-28,"u":-31,"l":2},{"a":10.56,"b":10.65,"t":-28,"u":-31,"l":4},{"a":10.65,"b":10.72,"t":-28,"u":-31,"l":5},{"a":10.72,"b":10.86,"t":-28,"u":-31,"l":6},{"a":10.86,"b":11.25,"t":-28,"u":-31,"l":4},{"a":11.25,"b":11.39,"t":-28,"u":-31,"l":3},{"a":11.39,"b":11.46,"t":-28,"u":-31,"l":2},{"a":12.12,"b":12.26,"t":-28,"u":-31,"l":2},{"a":12.26,"b":12.4,"t":-28,"u":-31,"l":4},{"a":12.4,"b":12.95,"t":-28,"u":-31,"l":6},{"a":12.95,"b":13.09,"t":-28,"u":-31,"l":5},{"a":13.09,"b":13.36,"t":-28,"u":-31,"l":4},{"a":13.36,"b":13.48,"t":-28,"u":-31,"l":3},{"a":13.48,"b":13.57,"t":-28,"u":-31,"l":2},{"a":13.87,"b":13.94,"t":-28,"u":-31,"l":4},{"a":13.94,"b":14.01,"t":-28,"u":-31,"l":6},{"a":14.01,"b":14.12,"t":-28,"u":-31,"l":4},{"a":14.12,"b":14.24,"t":-28,"u":-31,"l":2},{"a":14.93,"b":15.1,"t":-28,"u":-31,"l":0},{"a":15.25,"b":15.45,"t":-28,"u":-31,"l":0},{"a":15.98,"b":16.2,"t":-28,"u":-31,"l":0},{"a":16.35,"b":16.5,"t":-28,"u":-31,"l":0},{"a":17,"b":17.1,"t":-28,"u":-31,"l":0},{"a":18.73,"b":20.44,"t":-28,"u":-31,"l":2}],
"c1":[{"c":1,"x":9.83,"y":-0.05},{"c":1,"x":9.88,"y":-0.34},{"c":1,"x":10.33,"y":-0.34},{"c":1,"x":10.61,"y":-0.78},{"c":1,"x":10.68,"y":-1.33},{"c":1,"x":10.79,"y":-1},{"c":1,"x":10.93,"y":-1},{"c":1,"x":10.98,"y":-0.56},{"c":1,"x":11.25,"y":-0.3},{"c":1,"x":11.32,"y":0},
{"c":2,"x":11.78,"y":0},{"c":2,"x":11.85,"y":-0.3},{"c":2,"x":11.96,"y":-0.1},{"c":2,"x":12,"y":0},
{"c":3,"x":12.12,"y":0},{"c":3,"x":12.22,"y":-0.3},{"c":3,"x":12.31,"y":-0.78},{"c":3,"x":12.4,"y":-1.9},{"c":3,"x":12.44,"y":-1.33},{"c":3,"x":12.54,"y":-0.9},{"c":3,"x":12.6,"y":-1.3},{"c":3,"x":12.7,"y":-2.2},{"c":3,"x":12.83,"y":-1.2},{"c":3,"x":13.04,"y":-0.78},{"c":3,"x":13.07,"y":-0.5},{"c":3,"x":13.2,"y":-0.4},{"c":3,"x":13.34,"y":-0.5},{"c":3,"x":13.52,"y":-0.35},{"c":3,"x":13.8,"y":-0.55},{"c":3,"x":13.98,"y":-0.35},{"c":3,"x":14.35,"y":-0.3},{"c":3,"x":14.44,"y":0},
{"c":4,"x":15.06,"y":0},{"c":4,"x":15.22,"y":-0.27},{"c":4,"x":15.5,"y":-0.2},{"c":4,"x":15.52,"y":0},
{"c":5,"x":16.69,"y":0},{"c":5,"x":16.76,"y":-0.45},{"c":5,"x":16.83,"y":0},
{"c":6,"x":17.31,"y":0},{"c":6,"x":17.68,"y":-0.2},{"c":6,"x":17.82,"y":-0.3},{"c":6,"x":17.91,"y":0},
{"c":7,"x":18.67,"y":0},{"c":7,"x":18.96,"y":-0.2},{"c":7,"x":19.33,"y":-0.2},{"c":7,"x":19.45,"y":0},
{"c":8,"x":9.5,"y":-1},{"c":8,"x":9.65,"y":-0.34},{"c":8,"x":9.72,"y":-0.45},{"c":8,"x":9.76,"y":-1.66},{"c":8,"x":9.85,"y":-3.65},{"c":8,"x":9.88,"y":-5},{"c":8,"x":9.9,"y":-6.2},
{"c":9,"x":9.94,"y":-7.64},{"c":9,"x":10.04,"y":-8.63},{"c":9,"x":10.08,"y":-11},{"c":9,"x":10.13,"y":-12.7},{"c":9,"x":10.13,"y":-14.3},{"c":9,"x":10.17,"y":-16.5},{"c":9,"x":10.21,"y":-19},
{"c":10,"x":10.22,"y":-20.5},{"c":10,"x":10.24,"y":-23.3},
{"c":11,"x":10.24,"y":-19},{"c":11,"x":10.25,"y":-15.4},{"c":11,"x":10.24,"y":-12.5},{"c":11,"x":10.36,"y":-8.75},{"c":11,"x":10.36,"y":-7.2},{"c":11,"x":10.31,"y":-5.2},{"c":11,"x":10.33,"y":-4.5},{"c":11,"x":10.38,"y":-5.2},{"c":11,"x":10.4,"y":-7},{"c":11,"x":10.4,"y":-8.75},{"c":11,"x":10.38,"y":-10.3},
{"c":12,"x":10.42,"y":-12},{"c":12,"x":10.44,"y":-12.7},{"c":12,"x":10.4,"y":-15.4},{"c":12,"x":10.38,"y":-19.4},{"c":12,"x":10.39,"y":-22},{"c":12,"x":10.44,"y":-24},
{"c":13,"x":10.52,"y":-23.8},{"c":13,"x":10.46,"y":-26.4},{"c":13,"x":10.49,"y":-28.7},{"c":13,"x":10.53,"y":-30.9},
{"c":14,"x":10.52,"y":-23.8},{"c":14,"x":10.63,"y":-25.2},{"c":14,"x":10.62,"y":-27.5},
{"c":15,"x":11,"y":-30.9},{"c":15,"x":10.98,"y":-28.7},{"c":15,"x":10.93,"y":-26.4},{"c":15,"x":11.05,"y":-24.2},{"c":15,"x":11,"y":-23.8},{"c":15,"x":11.05,"y":-22},{"c":15,"x":11.05,"y":-20.2},{"c":15,"x":11.07,"y":-17.6},{"c":15,"x":11.14,"y":-16.3},{"c":15,"x":11.07,"y":-16},{"c":15,"x":11.02,"y":-13.4},{"c":15,"x":11.14,"y":-11},{"c":15,"x":11.14,"y":-8.75},{"c":15,"x":11.1,"y":-5.4},{"c":15,"x":11.11,"y":-4.3},{"c":15,"x":11.18,"y":-4.1},{"c":15,"x":11.23,"y":-2.55},
{"c":16,"x":11.28,"y":-1.1},{"c":16,"x":11.31,"y":-1.1},{"c":16,"x":11.32,"y":-2.2},{"c":16,"x":11.43,"y":-3.4},{"c":16,"x":11.46,"y":-2.8},{"c":16,"x":11.53,"y":-0.56},{"c":16,"x":11.6,"y":-0.56},{"c":16,"x":11.69,"y":-1.2},{"c":16,"x":11.76,"y":-0.67},{"c":16,"x":11.8,"y":-2.55},{"c":16,"x":11.85,"y":-5},{"c":16,"x":11.88,"y":-2.55},{"c":16,"x":12.01,"y":-1.9},{"c":16,"x":12.12,"y":-3},{"c":16,"x":12.17,"y":-6.75},{"c":16,"x":12.19,"y":-8.5},
{"c":17,"x":12.17,"y":-10.5},{"c":17,"x":12.22,"y":-13.2},{"c":17,"x":12.28,"y":-13.8},{"c":17,"x":12.26,"y":-17},{"c":17,"x":12.31,"y":-19.4},{"c":17,"x":12.33,"y":-26.4},{"c":17,"x":12.34,"y":-27.6},
{"c":18,"x":12.34,"y":-29.5},{"c":18,"x":12.34,"y":-30.9},
{"c":19,"x":10.62,"y":-14.7},{"c":19,"x":10.65,"y":-15.2},{"c":19,"x":10.62,"y":-15.6},{"c":19,"x":10.59,"y":-15.2},{"c":19,"x":10.62,"y":-14.7},
{"c":20,"x":10.86,"y":-25},{"c":20,"x":10.88,"y":-27},{"c":20,"x":10.86,"y":-27.8},{"c":20,"x":10.84,"y":-27},{"c":20,"x":10.86,"y":-25},
{"c":21,"x":10.22,"y":-24.4},{"c":21,"x":10.25,"y":-25.5},{"c":21,"x":10.22,"y":-26.7},{"c":21,"x":10.2,"y":-25.5},{"c":21,"x":10.22,"y":-24.4},
{"c":22,"x":10.22,"y":-27.4},{"c":22,"x":10.22,"y":-29.7},
{"c":23,"x":12.5,"y":-21.1},{"c":23,"x":12.53,"y":-22},{"c":23,"x":12.5,"y":-22.9},{"c":23,"x":12.47,"y":-22},{"c":23,"x":12.5,"y":-21.1},
{"c":24,"x":12.95,"y":-30.9},{"c":24,"x":12.95,"y":-22},{"c":24,"x":12.95,"y":-17.6},{"c":24,"x":13.08,"y":-16},
{"c":25,"x":13.18,"y":-9.2},{"c":25,"x":13.09,"y":-10.2},{"c":25,"x":13.12,"y":-11.7},{"c":25,"x":13.1,"y":-14},
{"c":26,"x":13.18,"y":-9.2},{"c":26,"x":13.22,"y":-10.7},{"c":26,"x":13.27,"y":-11.6},{"c":26,"x":13.32,"y":-12},{"c":26,"x":13.33,"y":-13.4},{"c":26,"x":13.26,"y":-13.8},{"c":26,"x":13.27,"y":-11.6},
{"c":27,"x":13.37,"y":-15.4},{"c":27,"x":13.48,"y":-11},{"c":27,"x":13.43,"y":-8.75},{"c":27,"x":13.41,"y":-8.2},{"c":27,"x":13.48,"y":-6.6},{"c":27,"x":13.51,"y":-4.8},{"c":27,"x":13.55,"y":-6.6},{"c":27,"x":13.6,"y":-8.2},{"c":27,"x":13.66,"y":-8.75},{"c":27,"x":13.75,"y":-11},{"c":27,"x":13.75,"y":-13.2},{"c":27,"x":13.78,"y":-15.6},{"c":27,"x":13.75,"y":-20.5},
{"c":28,"x":13.78,"y":-22.9},{"c":28,"x":13.81,"y":-21.4},{"c":28,"x":13.81,"y":-15.8},{"c":28,"x":13.84,"y":-13.2},{"c":28,"x":13.84,"y":-10.5},
{"c":29,"x":13.82,"y":-9},{"c":29,"x":13.82,"y":-6.6},{"c":29,"x":13.93,"y":-6},{"c":29,"x":13.97,"y":-2.2},{"c":29,"x":14,"y":-1.66},{"c":29,"x":14.04,"y":-2.4},{"c":29,"x":14.17,"y":-1.9},{"c":29,"x":14.3,"y":-3.1},{"c":29,"x":14.36,"y":-7.5},{"c":29,"x":14.39,"y":-7.6},{"c":29,"x":14.41,"y":-1.1},{"c":29,"x":14.51,"y":-0.5},{"c":29,"x":14.58,"y":-0.8},{"c":29,"x":14.67,"y":-1.55},{"c":29,"x":14.74,"y":-1.55},{"c":29,"x":14.8,"y":-1.2},{"c":29,"x":14.86,"y":-2.2},{"c":29,"x":14.92,"y":-4.65},{"c":29,"x":14.95,"y":-1.1},{"c":29,"x":15.13,"y":-1},{"c":29,"x":15.2,"y":-1.8},{"c":29,"x":15.27,"y":-1.3},{"c":29,"x":15.32,"y":-3.9},{"c":29,"x":15.39,"y":-4.1},{"c":29,"x":15.41,"y":-3.1},{"c":29,"x":15.48,"y":-3.3},{"c":29,"x":15.5,"y":-2},{"c":29,"x":15.53,"y":-1.55},{"c":29,"x":15.68,"y":-0.2},{"c":29,"x":15.87,"y":-0.45},{"c":29,"x":15.96,"y":-0.55},{"c":29,"x":16,"y":-3.2},{"c":29,"x":16.06,"y":-3.2},{"c":29,"x":16.11,"y":-0.8},{"c":29,"x":16.26,"y":-1.1},{"c":29,"x":16.33,"y":-0.9},{"c":29,"x":16.37,"y":-1.45},{"c":29,"x":16.51,"y":-0.5},{"c":29,"x":16.6,"y":-1.7},{"c":29,"x":16.66,"y":-1},{"c":29,"x":16.69,"y":-3.55},{"c":29,"x":16.78,"y":-4.4},{"c":29,"x":16.83,"y":-4.2},{"c":29,"x":16.9,"y":-0.55},{"c":29,"x":17.22,"y":-0.67},{"c":29,"x":17.36,"y":-1.33},{"c":29,"x":17.4,"y":-0.8},{"c":29,"x":17.47,"y":-1.33},{"c":29,"x":17.54,"y":-1},{"c":29,"x":17.63,"y":-4},{"c":29,"x":17.73,"y":-3.2},{"c":29,"x":17.78,"y":-4},{"c":29,"x":17.79,"y":-5.5},{"c":29,"x":17.86,"y":-6.5},{"c":29,"x":17.89,"y":-4.4},
{"c":30,"x":17.89,"y":-2.65},{"c":30,"x":18,"y":-1.2},{"c":30,"x":18.09,"y":-1.2},{"c":30,"x":18.28,"y":-0.33},{"c":30,"x":18.41,"y":-0.67},{"c":30,"x":18.5,"y":-1.8},{"c":30,"x":18.57,"y":-0.45},{"c":30,"x":18.64,"y":-0.45},{"c":30,"x":18.71,"y":-3.1},{"c":30,"x":18.87,"y":-3.76},{"c":30,"x":18.89,"y":-5.4},{"c":30,"x":18.99,"y":-5.1},{"c":30,"x":18.92,"y":-3.1},{"c":30,"x":18.99,"y":-3.76},{"c":30,"x":19.1,"y":-2},{"c":30,"x":19.17,"y":-2},{"c":30,"x":19.24,"y":-1.55},{"c":30,"x":19.38,"y":-2.65},{"c":30,"x":19.47,"y":-0.45},{"c":30,"x":19.51,"y":-0.8},{"c":30,"x":19.65,"y":-0.1},{"c":30,"x":19.72,"y":-0.2},{"c":30,"x":19.86,"y":-3.65},{"c":30,"x":20,"y":-5},{"c":30,"x":20.04,"y":-2.55},
{"c":31,"x":20.13,"y":-0.67},{"c":31,"x":20.27,"y":-0.55},{"c":31,"x":20.44,"y":-0.8},
{"c":32,"x":13.51,"y":-24.45},{"c":32,"x":13.45,"y":-26.4},{"c":32,"x":13.4,"y":-27},{"c":32,"x":13.43,"y":-28.6},
{"c":33,"x":13.51,"y":-24.45},{"c":33,"x":13.51,"y":-30.9},
{"c":34,"x":13.36,"y":-19},{"c":34,"x":13.42,"y":-20.5},{"c":34,"x":13.48,"y":-21.6},{"c":34,"x":13.4,"y":-21},{"c":34,"x":13.36,"y":-19},
{"c":35,"x":12.68,"y":-28.5},{"c":35,"x":12.72,"y":-27},{"c":35,"x":12.76,"y":-28.5},
{"c":36,"x":12.48,"y":-30.9},{"c":36,"x":12.52,"y":-28.4},{"c":36,"x":12.58,"y":-30.5},{"c":36,"x":12.62,"y":-29},
{"c":37,"x":12.76,"y":-30.9},{"c":37,"x":12.8,"y":-30},{"c":37,"x":12.87,"y":-30.9}],
"c2":[{"c":1,"x":9.83,"y":-0.05},{"c":1,"x":9.9,"y":-0.1},{"c":1,"x":10.4,"y":-0.1},{"c":1,"x":10.5,"y":-0.5},{"c":1,"x":10.61,"y":-0.95},{"c":1,"x":10.66,"y":-0.85},{"c":1,"x":10.7,"y":-1.7},{"c":1,"x":10.77,"y":-0.6},{"c":1,"x":10.84,"y":-0.28},{"c":1,"x":10.93,"y":-0.35},{"c":1,"x":11.25,"y":0},
{"c":2,"x":11.85,"y":0},{"c":2,"x":11.92,"y":-0.35},{"c":2,"x":11.99,"y":-0.05},
{"c":3,"x":12.22,"y":0},{"c":3,"x":12.33,"y":-2.1},{"c":3,"x":12.47,"y":-0.95},{"c":3,"x":12.65,"y":-1.05},{"c":3,"x":12.81,"y":-2.5},{"c":3,"x":12.88,"y":-0.3},{"c":3,"x":13.22,"y":0},{"c":3,"x":13.41,"y":-0.44},{"c":3,"x":13.55,"y":-0.07},{"c":3,"x":13.75,"y":0},
{"c":4,"x":16.67,"y":0},{"c":4,"x":16.75,"y":-0.3},{"c":4,"x":16.83,"y":0},
{"c":5,"x":17.59,"y":0},{"c":5,"x":17.81,"y":-0.2},{"c":5,"x":17.91,"y":0},
{"c":6,"x":18.96,"y":0},{"c":6,"x":19.15,"y":-0.1},{"c":6,"x":19.45,"y":0},
{"c":7,"x":9.5,"y":-0.22},{"c":7,"x":9.6,"y":-0.13},{"c":7,"x":9.74,"y":-0.17},{"c":7,"x":9.81,"y":-1.5},{"c":7,"x":9.88,"y":-3.05},{"c":7,"x":9.95,"y":-4.05},{"c":7,"x":9.98,"y":-1.06},{"c":7,"x":10.04,"y":-1.4},{"c":7,"x":10.1,"y":-1.94},{"c":7,"x":10.13,"y":-1.83},{"c":7,"x":10.17,"y":-4.15},{"c":7,"x":10.22,"y":-6.26},
{"c":8,"x":10.3,"y":-8.6},{"c":8,"x":10.4,"y":-7},{"c":8,"x":10.5,"y":-8.8},{"c":8,"x":10.55,"y":-13.2},{"c":8,"x":10.56,"y":-14},{"c":8,"x":10.7,"y":-28.6},
{"c":9,"x":10.72,"y":-30.4},{"c":9,"x":10.72,"y":-31},
{"c":10,"x":10.89,"y":-31},{"c":10,"x":10.89,"y":-14},{"c":10,"x":10.89,"y":-11},{"c":10,"x":10.98,"y":-11.9},{"c":10,"x":11.06,"y":-13.3},{"c":10,"x":11.12,"y":-11.6},
{"c":11,"x":11.14,"y":-9.25},{"c":11,"x":11.2,"y":-4.8},{"c":11,"x":11.33,"y":-2.05},{"c":11,"x":11.43,"y":-3.5},{"c":11,"x":11.47,"y":-0.17},{"c":11,"x":11.78,"y":-0.13},{"c":11,"x":11.87,"y":-3.7},{"c":11,"x":11.9,"y":-6.6},
{"c":12,"x":11.94,"y":-8.8},{"c":12,"x":12.02,"y":-11.35},{"c":12,"x":12.06,"y":-10.8},{"c":12,"x":12.03,"y":-1.28},{"c":12,"x":12.12,"y":-1.17},{"c":12,"x":12.24,"y":-7.5},
{"c":13,"x":12.3,"y":-9.7},{"c":13,"x":12.32,"y":-14.3},{"c":13,"x":12.4,"y":-27.9},
{"c":14,"x":12.42,"y":-30.4},{"c":14,"x":12.42,"y":-31},
{"c":15,"x":12.52,"y":-31},{"c":15,"x":12.56,"y":-25},{"c":15,"x":12.62,"y":-21},{"c":15,"x":12.68,"y":-24},{"c":15,"x":12.71,"y":-28.8},
{"c":16,"x":12.77,"y":-30.8},{"c":16,"x":12.77,"y":-31},
{"c":17,"x":12.95,"y":-31},{"c":17,"x":12.97,"y":-16.2},
{"c":18,"x":13,"y":-13.2},{"c":18,"x":13.06,"y":-11},{"c":18,"x":13.13,"y":-6.6},{"c":18,"x":13.2,"y":-3.6},{"c":18,"x":13.25,"y":-3.5},{"c":18,"x":13.32,"y":-4.8},{"c":18,"x":13.41,"y":-11.2},
{"c":19,"x":13.45,"y":-13.2},{"c":19,"x":13.49,"y":-14.2},{"c":19,"x":13.53,"y":-8.8},{"c":19,"x":13.57,"y":-4.15},{"c":19,"x":13.68,"y":-6.6},{"c":19,"x":13.77,"y":-13.2},
{"c":20,"x":13.82,"y":-14.9},{"c":20,"x":13.84,"y":-15.7},{"c":20,"x":13.83,"y":-14.9},{"c":20,"x":13.84,"y":-4.4},{"c":20,"x":13.87,"y":-2.2},{"c":20,"x":13.96,"y":-1.3},{"c":20,"x":14.12,"y":-1},{"c":20,"x":14.24,"y":-1.17},{"c":20,"x":14.39,"y":-3.7},{"c":20,"x":14.44,"y":-1.7},
{"c":21,"x":14.49,"y":-0.17},{"c":21,"x":14.78,"y":-0.28},{"c":21,"x":14.88,"y":-2.05},{"c":21,"x":14.9,"y":-0.4},{"c":21,"x":14.93,"y":-0.5},{"c":21,"x":15.06,"y":-0.2},{"c":21,"x":15.18,"y":-0.5},{"c":21,"x":15.27,"y":-1.4},{"c":21,"x":15.39,"y":-3.6},{"c":21,"x":15.5,"y":-2.4},{"c":21,"x":15.52,"y":-0.06},{"c":21,"x":15.96,"y":-0.22},{"c":21,"x":16.21,"y":-0.35},{"c":21,"x":16.53,"y":-0.06},{"c":21,"x":16.69,"y":-0.6},{"c":21,"x":16.76,"y":-4.4},{"c":21,"x":16.84,"y":-6.4},{"c":21,"x":16.9,"y":-4.6},{"c":21,"x":16.92,"y":-3.05},
{"c":22,"x":16.87,"y":-0.7},{"c":22,"x":16.9,"y":-0.17},{"c":22,"x":17.36,"y":-0.17},{"c":22,"x":17.44,"y":-0.5},{"c":22,"x":17.51,"y":-2.5},{"c":22,"x":17.54,"y":-0.4},{"c":22,"x":17.59,"y":-0.5},{"c":22,"x":17.68,"y":-4.6},{"c":22,"x":17.86,"y":-6.6},{"c":22,"x":17.9,"y":-0.4},{"c":22,"x":17.95,"y":-0.06},{"c":22,"x":18.1,"y":-0.28},{"c":22,"x":18.65,"y":-0.17},{"c":22,"x":18.79,"y":-1.94},{"c":22,"x":18.83,"y":-0.5},{"c":22,"x":18.89,"y":-1.17},{"c":22,"x":18.94,"y":-0.44},{"c":22,"x":19.08,"y":-1.7},{"c":22,"x":19.27,"y":-7.25},{"c":22,"x":19.32,"y":-2.6},{"c":22,"x":19.45,"y":-2.8},{"c":22,"x":19.46,"y":-1.6},
{"c":23,"x":19.47,"y":-0.4},{"c":23,"x":19.7,"y":-0.2},{"c":23,"x":19.8,"y":-1.4},{"c":23,"x":19.85,"y":-0.4},{"c":23,"x":20.04,"y":-0.35},{"c":23,"x":20.44,"y":-0.17}],
"t1":[{"x":9.9,"y":-6.9},{"x":10.4,"y":-11.1},{"x":10.25,"y":-19.6},{"x":10.5,"y":-29.9},{"x":10.62,"y":-29},{"x":11.27,"y":-2},{"x":12.2,"y":-9.4},{"x":12.35,"y":-28.4},{"x":12.75,"y":-29.2},{"x":13.09,"y":-15.3},{"x":13.42,"y":-29.3},{"x":13.5,"y":-7.1},{"x":13.86,"y":-9.6},{"x":13.75,"y":-21.5},{"x":14.4,"y":-2.85},{"x":15.54,"y":-0.45},{"x":17.91,"y":-3.57},{"x":20.12,"y":-1.45}],
"t2":[{"x":10.25,"y":-7.3},{"x":11.14,"y":-10.4},{"x":11.91,"y":-7.7},{"x":12.24,"y":-8.7},{"x":13.01,"y":-15},{"x":13.42,"y":-12.5},{"x":13.8,"y":-14.4},{"x":14.44,"y":-0.55},{"x":10.7,"y":-29.8},{"x":12.41,"y":-29.2},{"x":12.72,"y":-30},{"x":16.88,"y":-1.9},{"x":19.46,"y":-0.95}],
"bars":[{"a":10.36,"b":11.03,"y":1},{"a":11.81,"b":11.93,"y":1},{"a":12.22,"b":13,"y":1},{"a":13.34,"b":13.44,"y":1},{"a":16.74,"b":16.77,"y":1},{"a":17.75,"b":17.77,"y":1}],
"days":[{"x":10},{"x":12},{"x":14},{"x":16},{"x":18},{"x":20}]
},
"vconcat":[
{"width":795,"height":497,"title":"Dissipation rate (obs)","resolve":{"axis":{"x":"independent","y":"independent"}},
"layer":[
{"data":{"name":"f1"},"mark":{"type":"rect","clip":true,"strokeWidth":0.7},"encoding":{"x":{"field":"a","type":"quantitative","scale":{"domain":[9.5,20.44],"nice":false,"zero":false},"axis":{"orient":"bottom","values":[9.5,9.67,9.83,10,10.17,10.33,10.5,10.67,10.83,11,11.17,11.33,11.5,11.67,11.83,12,12.17,12.33,12.5,12.67,12.83,13,13.17,13.33,13.5,13.67,13.83,14,14.17,14.33,14.5,14.67,14.83,15,15.17,15.33,15.5,15.67,15.83,16,16.17,16.33,16.5,16.67,16.83,17,17.17,17.33,17.5,17.67,17.83,18,18.17,18.33,18.5,18.67,18.83,19,19.17,19.33,19.5,19.67,19.83,20,20.17,20.33],"tickSize":-6,"labelExpr":"datum.value%2==0?format(datum.value,'d'):''","title":"Days, March 1996","labelPadding":26,"titlePadding":8}},"x2":{"field":"b"},"y":{"field":"t","type":"quantitative","scale":{"domain":[-31,2],"nice":false,"zero":false},"axis":{"orient":"left","values":[-30,-25,-20,-15,-10,-5,0],"tickSize":-16,"labelPadding":26,"labelOffset":2,"title":"Depth [m]","titlePadding":16}},"y2":{"field":"u"},"color":{"field":"l","type":"nominal","legend":null,"scale":{"domain":[0,1,2,3,4,5,6,7,8,9,10,11],"range":["#0000ff","#0033ff","#0080ff","#00ccff","#00ffe6","#00ff90","#00ff00","#66ff00","#ccff00","#ffdd00","#ff9900","#ff5500"]}},"stroke":{"field":"l","type":"nominal","legend":null,"scale":{"domain":[0,1,2,3,4,5,6,7,8,9,10,11],"range":["#0000ff","#0033ff","#0080ff","#00ccff","#00ffe6","#00ff90","#00ff00","#66ff00","#ccff00","#ffdd00","#ff9900","#ff5500"]}}}},
{"data":{"name":"c1"},"transform":[{"window":[{"op":"row_number","as":"o"}]}],"mark":{"type":"line","color":"black","strokeWidth":1.2,"clip":true,"interpolate":"catmull-rom"},"encoding":{"x":{"field":"x","type":"quantitative","scale":{"domain":[9.5,20.44],"nice":false,"zero":false},"axis":{"orient":"top","values":[9.5,9.67,9.83,10,10.17,10.33,10.5,10.67,10.83,11,11.17,11.33,11.5,11.67,11.83,12,12.17,12.33,12.5,12.67,12.83,13,13.17,13.33,13.5,13.67,13.83,14,14.17,14.33,14.5,14.67,14.83,15,15.17,15.33,15.5,15.67,15.83,16,16.17,16.33,16.5,16.67,16.83,17,17.17,17.33,17.5,17.67,17.83,18,18.17,18.33,18.5,18.67,18.83,19,19.17,19.33,19.5,19.67,19.83,20,20.17,20.33],"tickSize":-6,"labels":false,"title":null}},"y":{"field":"y","type":"quantitative","scale":{"domain":[-31,2],"nice":false,"zero":false},"axis":{"orient":"left","values":[-30,-29,-28,-27,-26,-25,-24,-23,-22,-21,-20,-19,-18,-17,-16,-15,-14,-13,-12,-11,-10,-9,-8,-7,-6,-5,-4,-3,-2,-1,0,1],"tickSize":-8,"labels":false,"title":null}},"detail":{"field":"c"},"order":{"field":"o","type":"quantitative"}}},
{"data":{"name":"days"},"mark":{"type":"rule","color":"black","strokeDash":[1.5,3.5],"strokeWidth":1.2},"encoding":{"x":{"field":"x","type":"quantitative","scale":{"domain":[9.5,20.44],"nice":false,"zero":false},"axis":null}}},
{"data":{"name":"bars"},"mark":{"type":"rule","color":"black","strokeWidth":11,"strokeCap":"round"},"encoding":{"x":{"field":"a","type":"quantitative","scale":{"domain":[9.5,20.44],"nice":false,"zero":false},"axis":null},"x2":{"field":"b"},"y":{"field":"y","type":"quantitative","scale":{"domain":[-31,2],"nice":false,"zero":false},"axis":{"orient":"right","values":[-30,-25,-20,-15,-10,-5,0],"tickSize":-11,"labels":false,"title":null,"domain":false}}}},
{"data":{"name":"t1"},"mark":{"type":"text","text":"∞","fontSize":21,"color":"black"},"encoding":{"x":{"field":"x","type":"quantitative","scale":{"domain":[9.5,20.44],"nice":false,"zero":false},"axis":null},"y":{"field":"y","type":"quantitative","scale":{"domain":[-31,2],"nice":false,"zero":false},"axis":{"orient":"right","values":[-30,-29,-28,-27,-26,-25,-24,-23,-22,-21,-20,-19,-18,-17,-16,-15,-14,-13,-12,-11,-10,-9,-8,-7,-6,-5,-4,-3,-2,-1,0,1],"tickSize":-4,"labels":false,"title":null,"domain":false}}}}
]},
{"width":795,"height":497,"title":"Dissipation rate (r2)","resolve":{"axis":{"x":"independent","y":"independent"}},
"layer":[
{"data":{"name":"f2"},"mark":{"type":"rect","clip":true,"strokeWidth":0.7},"encoding":{"x":{"field":"a","type":"quantitative","scale":{"domain":[9.5,20.44],"nice":false,"zero":false},"axis":{"orient":"bottom","values":[9.5,9.67,9.83,10,10.17,10.33,10.5,10.67,10.83,11,11.17,11.33,11.5,11.67,11.83,12,12.17,12.33,12.5,12.67,12.83,13,13.17,13.33,13.5,13.67,13.83,14,14.17,14.33,14.5,14.67,14.83,15,15.17,15.33,15.5,15.67,15.83,16,16.17,16.33,16.5,16.67,16.83,17,17.17,17.33,17.5,17.67,17.83,18,18.17,18.33,18.5,18.67,18.83,19,19.17,19.33,19.5,19.67,19.83,20,20.17,20.33],"tickSize":-6,"labelExpr":"datum.value%2==0?format(datum.value,'d'):''","title":"Days, March 1996","labelPadding":26,"titlePadding":8}},"x2":{"field":"b"},"y":{"field":"t","type":"quantitative","scale":{"domain":[-31,2],"nice":false,"zero":false},"axis":{"orient":"left","values":[-30,-25,-20,-15,-10,-5,0],"tickSize":-16,"labelPadding":26,"labelOffset":2,"title":"Depth [m]","titlePadding":16}},"y2":{"field":"u"},"color":{"field":"l","type":"nominal","legend":null,"scale":{"domain":[0,1,2,3,4,5,6,7,8,9,10,11],"range":["#0000ff","#0033ff","#0080ff","#00ccff","#00ffe6","#00ff90","#00ff00","#66ff00","#ccff00","#ffdd00","#ff9900","#ff5500"]}},"stroke":{"field":"l","type":"nominal","legend":null,"scale":{"domain":[0,1,2,3,4,5,6,7,8,9,10,11],"range":["#0000ff","#0033ff","#0080ff","#00ccff","#00ffe6","#00ff90","#00ff00","#66ff00","#ccff00","#ffdd00","#ff9900","#ff5500"]}}}},
{"data":{"name":"c2"},"transform":[{"window":[{"op":"row_number","as":"o"}]}],"mark":{"type":"line","color":"black","strokeWidth":1.2,"clip":true,"interpolate":"catmull-rom"},"encoding":{"x":{"field":"x","type":"quantitative","scale":{"domain":[9.5,20.44],"nice":false,"zero":false},"axis":{"orient":"top","values":[9.5,9.67,9.83,10,10.17,10.33,10.5,10.67,10.83,11,11.17,11.33,11.5,11.67,11.83,12,12.17,12.33,12.5,12.67,12.83,13,13.17,13.33,13.5,13.67,13.83,14,14.17,14.33,14.5,14.67,14.83,15,15.17,15.33,15.5,15.67,15.83,16,16.17,16.33,16.5,16.67,16.83,17,17.17,17.33,17.5,17.67,17.83,18,18.17,18.33,18.5,18.67,18.83,19,19.17,19.33,19.5,19.67,19.83,20,20.17,20.33],"tickSize":-6,"labels":false,"title":null}},"y":{"field":"y","type":"quantitative","scale":{"domain":[-31,2],"nice":false,"zero":false},"axis":{"orient":"left","values":[-30,-29,-28,-27,-26,-25,-24,-23,-22,-21,-20,-19,-18,-17,-16,-15,-14,-13,-12,-11,-10,-9,-8,-7,-6,-5,-4,-3,-2,-1,0,1],"tickSize":-8,"labels":false,"title":null}},"detail":{"field":"c"},"order":{"field":"o","type":"quantitative"}}},
{"data":{"name":"days"},"mark":{"type":"rule","color":"black","strokeDash":[1.5,3.5],"strokeWidth":1.2},"encoding":{"x":{"field":"x","type":"quantitative","scale":{"domain":[9.5,20.44],"nice":false,"zero":false},"axis":null}}},
{"data":{"name":"bars"},"mark":{"type":"rule","color":"black","strokeWidth":11,"strokeCap":"round"},"encoding":{"x":{"field":"a","type":"quantitative","scale":{"domain":[9.5,20.44],"nice":false,"zero":false},"axis":null},"x2":{"field":"b"},"y":{"field":"y","type":"quantitative","scale":{"domain":[-31,2],"nice":false,"zero":false},"axis":{"orient":"right","values":[-30,-25,-20,-15,-10,-5,0],"tickSize":-11,"labels":false,"title":null,"domain":false}}}},
{"data":{"name":"t2"},"mark":{"type":"text","text":"∞","fontSize":21,"color":"black"},"encoding":{"x":{"field":"x","type":"quantitative","scale":{"domain":[9.5,20.44],"nice":false,"zero":false},"axis":null},"y":{"field":"y","type":"quantitative","scale":{"domain":[-31,2],"nice":false,"zero":false},"axis":{"orient":"right","values":[-30,-29,-28,-27,-26,-25,-24,-23,-22,-21,-20,-19,-18,-17,-16,-15,-14,-13,-12,-11,-10,-9,-8,-7,-6,-5,-4,-3,-2,-1,0,1],"tickSize":-4,"labels":false,"title":null,"domain":false}}}}
]}
]}
